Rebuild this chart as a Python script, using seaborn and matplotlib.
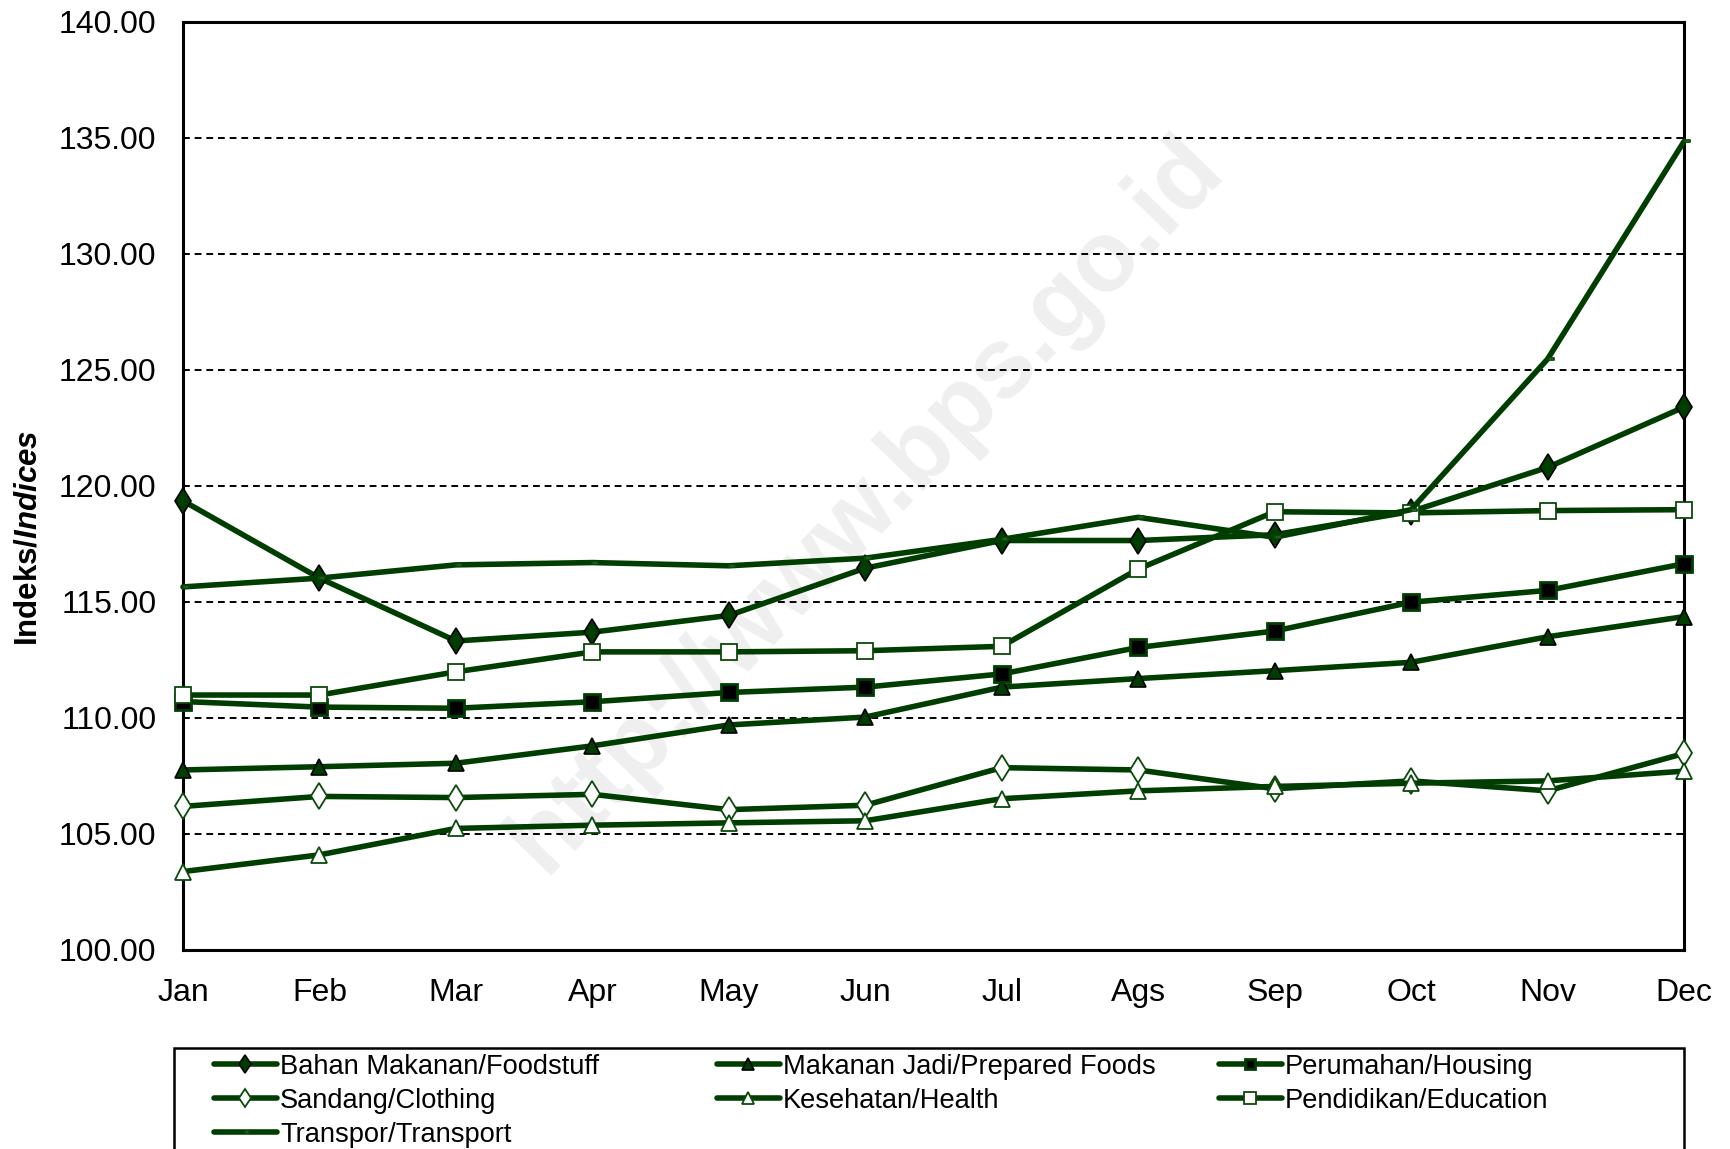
import matplotlib

matplotlib.use("Agg")
import matplotlib.pyplot as plt
import matplotlib.patches as mpatches
from matplotlib.path import Path
import numpy as np
import seaborn as sns

# data
months = ["Jan", "Feb", "Mar", "Apr", "May", "Jun", "Jul", "Ags", "Sep", "Oct", "Nov", "Dec"]
foodstuff = [119.36, 116.03, 113.32, 113.70, 114.42, 116.46, 117.65, 117.65, 117.90, 118.90, 120.80, 123.40]
prepared_foods = [107.76, 107.90, 108.05, 108.80, 109.70, 110.04, 111.33, 111.70, 112.04, 112.40, 113.50, 114.37]
housing = [110.71, 110.47, 110.42, 110.70, 111.10, 111.33, 111.90, 113.04, 113.75, 114.99, 115.50, 116.65]
clothing = [106.19, 106.62, 106.57, 106.71, 106.05, 106.24, 107.86, 107.76, 106.95, 107.29, 106.86, 108.47]
health = [103.38, 104.10, 105.24, 105.38, 105.48, 105.57, 106.52, 106.86, 107.05, 107.19, 107.29, 107.71]
education = [110.99, 110.99, 111.99, 112.85, 112.85, 112.90, 113.09, 116.42, 118.89, 118.84, 118.94, 118.98]
transport = [115.65, 116.03, 116.60, 116.70, 116.56, 116.89, 117.70, 118.65, 117.79, 118.98, 125.47, 134.85]

series_labels = [
    "Bahan Makanan/Foodstuff",
    "Makanan Jadi/Prepared Foods",
    "Perumahan/Housing",
    "Sandang/Clothing",
    "Kesehatan/Health",
    "Pendidikan/Education",
    "Transpor/Transport",
]
y_ticks = [100, 105, 110, 115, 120, 125, 130, 135, 140]

GREEN = "#003d00"
EDGE_GREEN = "#0b4a0b"

sns.set_theme(style="white")
plt.rcParams["font.family"] = ["Liberation Sans", "DejaVu Sans"]
plt.rcParams["text.color"] = "black"
plt.rcParams["xtick.color"] = "black"
plt.rcParams["ytick.color"] = "black"
plt.rcParams["mathtext.fontset"] = "custom"
plt.rcParams["mathtext.rm"] = "Liberation Sans:bold"
plt.rcParams["mathtext.it"] = "Liberation Sans:italic:bold"

# small flat rectangle sitting right of the point (transport marker)
dash_marker = Path([(0, -0.3), (2.2, -0.3), (2.2, 0.3), (0, 0.3), (0, -0.3)],
                   [Path.MOVETO, Path.LINETO, Path.LINETO, Path.LINETO, Path.CLOSEPOLY])

styles = [
    dict(marker="d", ms=13.5, mfc=GREEN, mec="black", mew=1.2),
    dict(marker="^", ms=12, mfc=GREEN, mec="black", mew=1.2),
    dict(marker="s", ms=11, mfc="black", mec=GREEN, mew=2),
    dict(marker="d", ms=13.5, mfc="white", mec=EDGE_GREEN, mew=1.3),
    dict(marker="^", ms=12, mfc="white", mec=EDGE_GREEN, mew=1.3),
    dict(marker="s", ms=12, mfc="white", mec=EDGE_GREEN, mew=1.3),
    dict(marker=dash_marker, ms=9, mfc="white", mec=EDGE_GREEN, mew=1.3),
]
all_values = [foodstuff, prepared_foods, housing, clothing, health, education, transport]

fig = plt.figure(figsize=(17.3, 11.49), dpi=100)
ax = fig.add_axes([183 / 1730, 1 - 950 / 1149, (1684 - 183) / 1730, (950 - 22) / 1149])

x = np.arange(len(months))

# watermark behind the series
ax.text(0.455, 0.48, "http://www.bps.go.id", transform=ax.transAxes, rotation=46,
        fontsize=72, fontweight="bold", color="#efefef", ha="center", va="center", zorder=0)

for y_h in y_ticks[1:-1]:
    ax.axhline(y_h, color="black", lw=1.4, ls=(0, (3.5, 2.5)), zorder=1)

handles = []
for vals, lab, st in zip(all_values, series_labels, styles):
    sns.lineplot(x=x, y=vals, ax=ax, color=GREEN, lw=4, sort=False, label=lab,
                 legend=False, clip_on=False, zorder=3, **st)
    handles.append(ax.lines[-1])

ax.set_xlim(0, 11)
ax.set_ylim(100, 140)
ax.set_xticks(x)
ax.set_xticklabels(months, fontsize=23)
ax.set_xticks(x[:-1] + 0.5, minor=True)
ax.set_yticks(y_ticks)
ax.set_yticklabels([f"{v:.2f}" for v in y_ticks], fontsize=23)
ax.tick_params(axis="x", which="major", length=0, pad=20)
ax.tick_params(axis="x", which="minor", direction="in", length=7, width=1.5, color="black")
ax.tick_params(axis="y", direction="in", length=7, width=1.5, color="black", pad=19)
ax.set_xlabel("")
ax.set_ylabel("")
for sp in ax.spines.values():
    sp.set_color("black")
    sp.set_linewidth(2.2)

fig.text(29 / 1730, 1 - 538 / 1149, r"Indeks/$\mathit{Indices}$", rotation=90,
         fontsize=22.5, fontweight="bold", ha="center", va="center")

# legend frame and three columns
frame = mpatches.Rectangle((174 / 1730, -0.05), (1684 - 174) / 1730, 0.05 + (1149 - 1048) / 1149,
                           transform=fig.transFigure, fill=False, ec="black", lw=1.8)
fig.add_artist(frame)
columns = [[0, 3, 6], [1, 4], [2, 5]]
col_x = [214, 717, 1219]
for cx, idx in zip(col_x, columns):
    leg = fig.legend([handles[i] for i in idx], [series_labels[i] for i in idx],
                     loc="upper left", bbox_to_anchor=(cx / 1730, 1 - 1054 / 1149),
                     frameon=False, fontsize=19.6, handlelength=2.3, handletextpad=0.12,
                     labelspacing=0.29, borderpad=0, borderaxespad=0, markerscale=0.7)

fig.savefig("out.png", dpi=100)
